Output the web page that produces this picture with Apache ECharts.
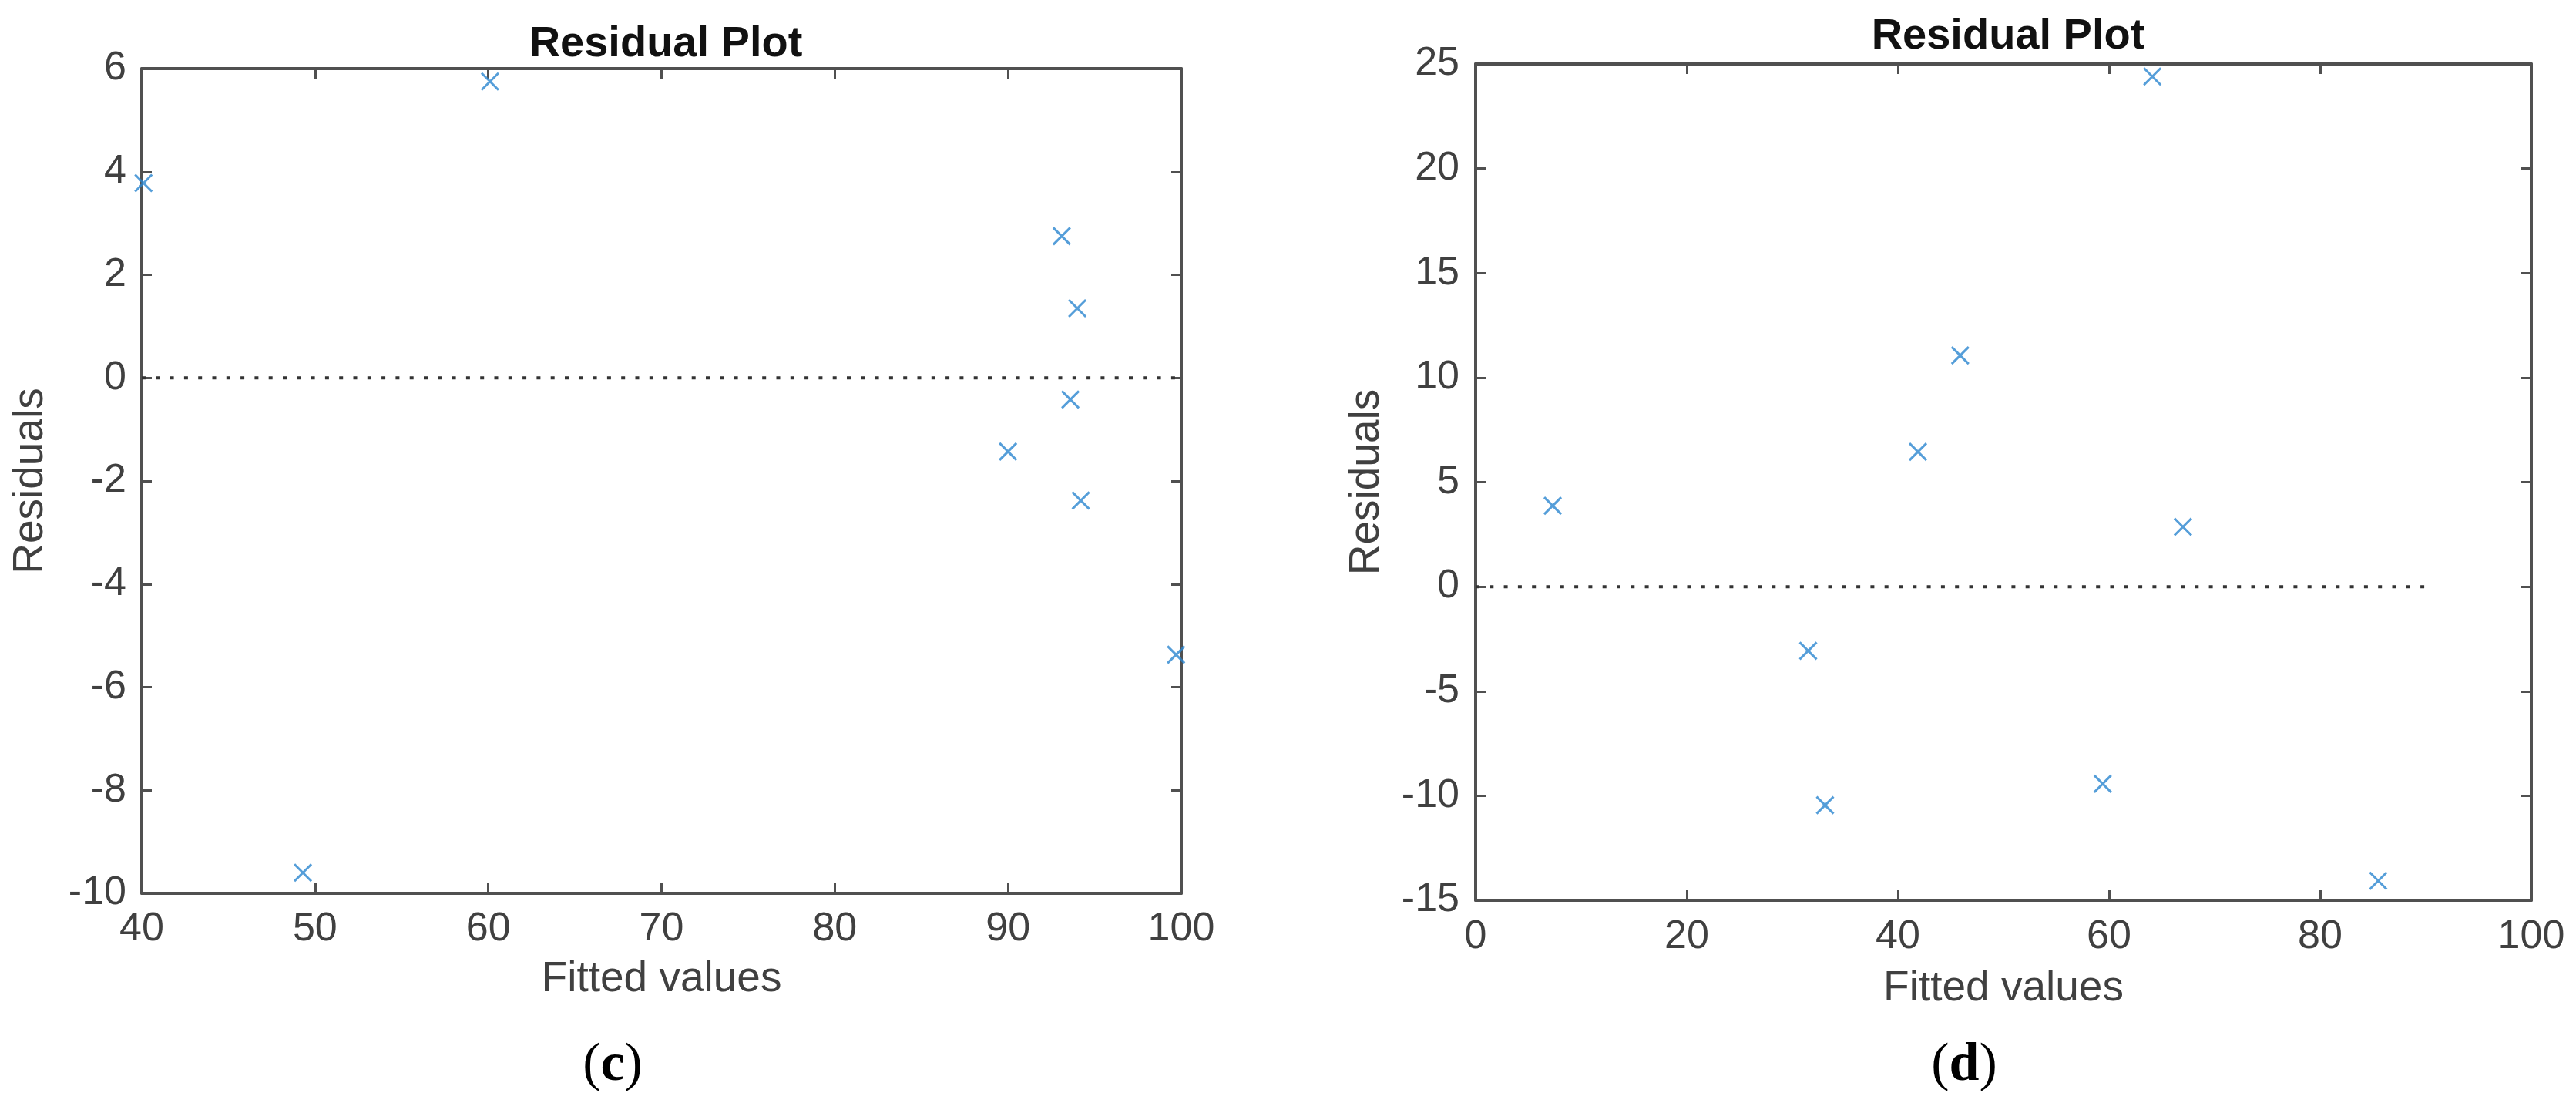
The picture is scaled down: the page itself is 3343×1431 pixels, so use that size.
<!DOCTYPE html>
<html>
<head>
<meta charset="utf-8">
<script src="https://cdn.jsdelivr.net/npm/echarts@6/dist/echarts.min.js"></script>
<style>
html,body{margin:0;padding:0;background:#fff;}
#chart{width:3343px;height:1431px;}
</style>
</head>
<body>
<div id="chart"></div>
<script>
// ---- Data (panel c) ----
var fittedC = [40.1, 49.3, 60.1, 90.0, 93.1, 93.6, 94.0, 94.2, 99.7];
var residC  = [3.78, -9.6, 5.75, -1.43, 2.75, -0.42, 1.35, -2.38, -5.37];
var zeroLineXC = [40, 100];
var xTicksC = {min: 40, max: 100, interval: 10};
var yTicksC = {min: -10, max: 6, interval: 2};

// ---- Data (panel d) ----
var fittedD = [7.3, 31.5, 33.1, 41.9, 45.9, 59.4, 64.1, 67.0, 85.5];
var residD  = [3.87, -3.07, -10.45, 6.45, 11.06, -9.43, 24.4, 2.86, -14.07];
var zeroLineXD = [0, 90];
var xTicksD = {min: 0, max: 100, interval: 20};
var yTicksD = {min: -15, max: 25, interval: 5};

var titleText = 'Residual Plot';
var xName = 'Fitted values';
var yName = 'Residuals';

var AX = '#505050';
var LBL = '#404040';
var MARK = '#2b86cf';
var SANS = '"Liberation Sans", Arial, sans-serif';
var SERIF = '"Liberation Serif", "Times New Roman", serif';

function pairs(xs, ys){ return xs.map(function(x,i){ return [x, ys[i]]; }); }

function mkX(grid, t, pos, showLabel, gap, margin){
  return {
    type:'value', gridIndex:grid, position:pos, min:t.min, max:t.max, interval:t.interval,
    name: showLabel ? xName : '', nameLocation:'middle', nameGap:gap,
    nameTextStyle:{fontFamily:SANS, fontSize:55, color:LBL},
    axisLine:{show:true, onZero:false, lineStyle:{color:AX, width:4}},
    axisTick:{show:true, inside:true, length:13, lineStyle:{color:AX, width:3}},
    axisLabel:{show:showLabel, margin:margin, fontFamily:SANS, fontSize:52, color:LBL},
    splitLine:{show:false}
  };
}
function mkY(grid, t, pos, showLabel, gap, margin){
  return {
    type:'value', gridIndex:grid, position:pos, min:t.min, max:t.max, interval:t.interval,
    name: showLabel ? yName : '', nameLocation:'middle', nameGap:gap,
    nameTextStyle:{fontFamily:SANS, fontSize:55, color:LBL},
    axisLine:{show:true, onZero:false, lineStyle:{color:AX, width:4}},
    axisTick:{show:true, inside:true, length:13, lineStyle:{color:AX, width:3}},
    axisLabel:{show:showLabel, margin:margin, fontFamily:SANS, fontSize:52, color:LBL},
    splitLine:{show:false}
  };
}

var xSym = 'path://M0 0L10 10M10 0L0 10';
var capRich = {
  p:{fontFamily:SERIF, fontSize:70, fontWeight:'normal', color:'#000'},
  b:{fontFamily:SERIF, fontSize:70, fontWeight:'bold', color:'#000'}
};

var chart = echarts.init(document.getElementById('chart'), null, {renderer:'canvas'});
chart.setOption({
  animation:false,
  backgroundColor:'#ffffff',
  title:[
    {text:titleText, left:859, top:25, textAlign:'center',
     textStyle:{fontFamily:SANS, fontSize:56, fontWeight:'bold', color:'#111'}},
    {text:titleText, left:2601, top:15, textAlign:'center',
     textStyle:{fontFamily:SANS, fontSize:56, fontWeight:'bold', color:'#111'}},
    {text:'{p|(}{b|c}{p|)}', left:790, top:1343, textAlign:'center',
     textStyle:{fontWeight:'normal', rich:capRich}},
    {text:'{p|(}{b|d}{p|)}', left:2544, top:1343, textAlign:'center',
     textStyle:{fontWeight:'normal', rich:capRich}}
  ],
  grid:[
    {left:184, top:89, width:1349, height:1070},
    {left:1915, top:83, width:1370, height:1085}
  ],
  xAxis:[
    mkX(0, xTicksC, 'bottom', true, 84, 21),
    mkX(0, xTicksC, 'top', false, 0, 0),
    mkX(1, xTicksD, 'bottom', true, 87, 22),
    mkX(1, xTicksD, 'top', false, 0, 0)
  ],
  yAxis:[
    mkY(0, yTicksC, 'left', true, 117, 20),
    mkY(0, yTicksC, 'right', false, 0, 0),
    mkY(1, yTicksD, 'left', true, 114, 21),
    mkY(1, yTicksD, 'right', false, 0, 0)
  ],
  series:[
    {type:'line', xAxisIndex:0, yAxisIndex:0, data:pairs(zeroLineXC, [0,0]), symbol:'none',
     lineStyle:{color:'#333', width:4, type:[5,13.3], cap:'butt'}, silent:true},
    {type:'scatter', xAxisIndex:0, yAxisIndex:0, data:pairs(fittedC, residC), symbol:xSym, symbolSize:22, clip:false,
     itemStyle:{color:'none', borderColor:MARK, borderWidth:3}},
    {type:'line', xAxisIndex:2, yAxisIndex:2, data:pairs(zeroLineXD, [0,0]), symbol:'none',
     lineStyle:{color:'#333', width:4, type:[5,13.3], cap:'butt'}, silent:true},
    {type:'scatter', xAxisIndex:2, yAxisIndex:2, data:pairs(fittedD, residD), symbol:xSym, symbolSize:22, clip:false,
     itemStyle:{color:'none', borderColor:MARK, borderWidth:3}}
  ]
});
</script>
</body>
</html>
